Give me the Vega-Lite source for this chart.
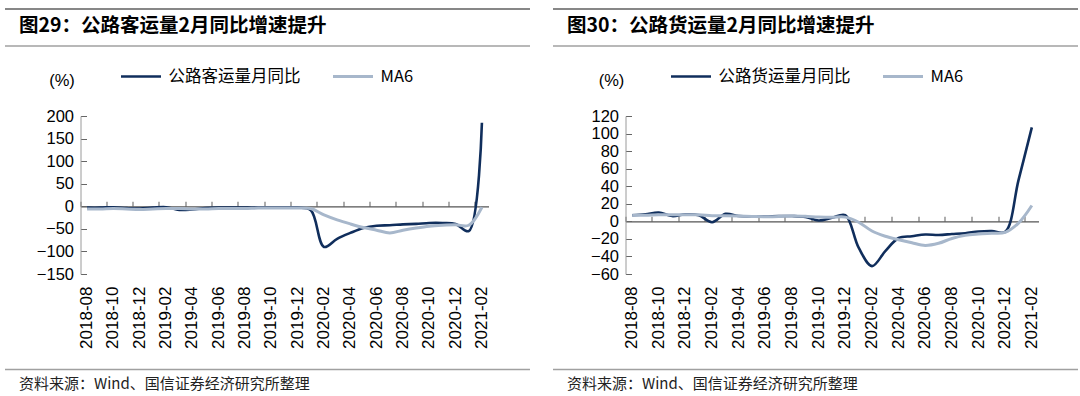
{
  "$schema": "https://vega.github.io/schema/vega-lite/v6.json",
  "padding": {"left": 3.5, "top": 8, "right": 0, "bottom": 0},
  "background": "white",
  "spacing": 8,
  "config": {
    "view": {"stroke": null},
    "axis": {"labelFont": "Liberation Sans", "titleFont": "Liberation Sans", "labelColor": "#000000", "titleColor": "#000000", "grid": false},
    "legend": {"labelFont": "Noto Sans CJK SC", "labelColor": "#000000"}
  },
  "datasets": {
    "titles": [
      {"panel": "L", "title": "图29：公路客运量2月同比增速提升", "source": "资料来源：Wind、国信证券经济研究所整理"},
      {"panel": "R", "title": "图30：公路货运量2月同比增速提升", "source": "资料来源：Wind、国信证券经济研究所整理"}
    ],
    "passenger": [
      {"month": "2018-08", "series": "公路客运量月同比", "value": -3},
      {"month": "2018-09", "series": "公路客运量月同比", "value": -3},
      {"month": "2018-10", "series": "公路客运量月同比", "value": -2},
      {"month": "2018-11", "series": "公路客运量月同比", "value": -4},
      {"month": "2018-12", "series": "公路客运量月同比", "value": -5},
      {"month": "2019-01", "series": "公路客运量月同比", "value": -3},
      {"month": "2019-02", "series": "公路客运量月同比", "value": -2},
      {"month": "2019-03", "series": "公路客运量月同比", "value": -8},
      {"month": "2019-04", "series": "公路客运量月同比", "value": -7},
      {"month": "2019-05", "series": "公路客运量月同比", "value": -4},
      {"month": "2019-06", "series": "公路客运量月同比", "value": -3},
      {"month": "2019-07", "series": "公路客运量月同比", "value": -3},
      {"month": "2019-08", "series": "公路客运量月同比", "value": -3},
      {"month": "2019-09", "series": "公路客运量月同比", "value": -3},
      {"month": "2019-10", "series": "公路客运量月同比", "value": -3},
      {"month": "2019-11", "series": "公路客运量月同比", "value": -3},
      {"month": "2019-12", "series": "公路客运量月同比", "value": -3},
      {"month": "2020-01", "series": "公路客运量月同比", "value": -9},
      {"month": "2020-02", "series": "公路客运量月同比", "value": -90},
      {"month": "2020-03", "series": "公路客运量月同比", "value": -72},
      {"month": "2020-04", "series": "公路客运量月同比", "value": -59},
      {"month": "2020-05", "series": "公路客运量月同比", "value": -48},
      {"month": "2020-06", "series": "公路客运量月同比", "value": -43},
      {"month": "2020-07", "series": "公路客运量月同比", "value": -42},
      {"month": "2020-08", "series": "公路客运量月同比", "value": -40},
      {"month": "2020-09", "series": "公路客运量月同比", "value": -39},
      {"month": "2020-10", "series": "公路客运量月同比", "value": -37},
      {"month": "2020-11", "series": "公路客运量月同比", "value": -37},
      {"month": "2020-12", "series": "公路客运量月同比", "value": -39},
      {"month": "2021-01", "series": "公路客运量月同比", "value": -55},
      {"month": "2021-02", "series": "公路客运量月同比", "value": 185},
      {"month": "2018-08", "series": "MA6", "value": -6},
      {"month": "2018-09", "series": "MA6", "value": -6},
      {"month": "2018-10", "series": "MA6", "value": -5},
      {"month": "2018-11", "series": "MA6", "value": -6},
      {"month": "2018-12", "series": "MA6", "value": -7},
      {"month": "2019-01", "series": "MA6", "value": -6},
      {"month": "2019-02", "series": "MA6", "value": -5},
      {"month": "2019-03", "series": "MA6", "value": -5},
      {"month": "2019-04", "series": "MA6", "value": -6},
      {"month": "2019-05", "series": "MA6", "value": -6},
      {"month": "2019-06", "series": "MA6", "value": -5},
      {"month": "2019-07", "series": "MA6", "value": -5},
      {"month": "2019-08", "series": "MA6", "value": -5},
      {"month": "2019-09", "series": "MA6", "value": -4},
      {"month": "2019-10", "series": "MA6", "value": -4},
      {"month": "2019-11", "series": "MA6", "value": -4},
      {"month": "2019-12", "series": "MA6", "value": -4},
      {"month": "2020-01", "series": "MA6", "value": -5},
      {"month": "2020-02", "series": "MA6", "value": -19},
      {"month": "2020-03", "series": "MA6", "value": -30},
      {"month": "2020-04", "series": "MA6", "value": -39},
      {"month": "2020-05", "series": "MA6", "value": -47},
      {"month": "2020-06", "series": "MA6", "value": -53},
      {"month": "2020-07", "series": "MA6", "value": -59},
      {"month": "2020-08", "series": "MA6", "value": -53},
      {"month": "2020-09", "series": "MA6", "value": -48},
      {"month": "2020-10", "series": "MA6", "value": -44},
      {"month": "2020-11", "series": "MA6", "value": -42},
      {"month": "2020-12", "series": "MA6", "value": -41},
      {"month": "2021-01", "series": "MA6", "value": -42},
      {"month": "2021-02", "series": "MA6", "value": -2}
    ],
    "freight": [
      {"month": "2018-08", "series": "公路货运量月同比", "value": 7},
      {"month": "2018-09", "series": "公路货运量月同比", "value": 8},
      {"month": "2018-10", "series": "公路货运量月同比", "value": 10},
      {"month": "2018-11", "series": "公路货运量月同比", "value": 6},
      {"month": "2018-12", "series": "公路货运量月同比", "value": 8},
      {"month": "2019-01", "series": "公路货运量月同比", "value": 7},
      {"month": "2019-02", "series": "公路货运量月同比", "value": -1},
      {"month": "2019-03", "series": "公路货运量月同比", "value": 8.5},
      {"month": "2019-04", "series": "公路货运量月同比", "value": 6},
      {"month": "2019-05", "series": "公路货运量月同比", "value": 5.5},
      {"month": "2019-06", "series": "公路货运量月同比", "value": 5.5},
      {"month": "2019-07", "series": "公路货运量月同比", "value": 6},
      {"month": "2019-08", "series": "公路货运量月同比", "value": 6},
      {"month": "2019-09", "series": "公路货运量月同比", "value": 5},
      {"month": "2019-10", "series": "公路货运量月同比", "value": 1},
      {"month": "2019-11", "series": "公路货运量月同比", "value": 4},
      {"month": "2019-12", "series": "公路货运量月同比", "value": 7},
      {"month": "2020-01", "series": "公路货运量月同比", "value": -30},
      {"month": "2020-02", "series": "公路货运量月同比", "value": -51},
      {"month": "2020-03", "series": "公路货运量月同比", "value": -34},
      {"month": "2020-04", "series": "公路货运量月同比", "value": -19},
      {"month": "2020-05", "series": "公路货运量月同比", "value": -17},
      {"month": "2020-06", "series": "公路货运量月同比", "value": -15},
      {"month": "2020-07", "series": "公路货运量月同比", "value": -15.5},
      {"month": "2020-08", "series": "公路货运量月同比", "value": -14.5},
      {"month": "2020-09", "series": "公路货运量月同比", "value": -13.5},
      {"month": "2020-10", "series": "公路货运量月同比", "value": -11.5},
      {"month": "2020-11", "series": "公路货运量月同比", "value": -11},
      {"month": "2020-12", "series": "公路货运量月同比", "value": -12},
      {"month": "2021-01", "series": "公路货运量月同比", "value": 47},
      {"month": "2021-02", "series": "公路货运量月同比", "value": 107},
      {"month": "2018-08", "series": "MA6", "value": 7},
      {"month": "2018-09", "series": "MA6", "value": 7},
      {"month": "2018-10", "series": "MA6", "value": 7.5},
      {"month": "2018-11", "series": "MA6", "value": 7.5},
      {"month": "2018-12", "series": "MA6", "value": 7.5},
      {"month": "2019-01", "series": "MA6", "value": 7.5},
      {"month": "2019-02", "series": "MA6", "value": 6.5},
      {"month": "2019-03", "series": "MA6", "value": 6.3},
      {"month": "2019-04", "series": "MA6", "value": 6},
      {"month": "2019-05", "series": "MA6", "value": 5.6},
      {"month": "2019-06", "series": "MA6", "value": 5.3},
      {"month": "2019-07", "series": "MA6", "value": 5.5},
      {"month": "2019-08", "series": "MA6", "value": 6.2},
      {"month": "2019-09", "series": "MA6", "value": 5.7},
      {"month": "2019-10", "series": "MA6", "value": 4.9},
      {"month": "2019-11", "series": "MA6", "value": 4.6},
      {"month": "2019-12", "series": "MA6", "value": 4.8},
      {"month": "2020-01", "series": "MA6", "value": -1},
      {"month": "2020-02", "series": "MA6", "value": -11},
      {"month": "2020-03", "series": "MA6", "value": -17},
      {"month": "2020-04", "series": "MA6", "value": -21},
      {"month": "2020-05", "series": "MA6", "value": -24.5},
      {"month": "2020-06", "series": "MA6", "value": -27.5},
      {"month": "2020-07", "series": "MA6", "value": -25},
      {"month": "2020-08", "series": "MA6", "value": -19.5},
      {"month": "2020-09", "series": "MA6", "value": -16},
      {"month": "2020-10", "series": "MA6", "value": -14.5},
      {"month": "2020-11", "series": "MA6", "value": -13.5},
      {"month": "2020-12", "series": "MA6", "value": -12.5},
      {"month": "2021-01", "series": "MA6", "value": -2},
      {"month": "2021-02", "series": "MA6", "value": 18}
    ]
  },
  "vconcat": [
    {
      "width": 1073,
      "height": 37,
      "data": {"name": "titles"},
      "encoding": {
        "x": {"field": "panel", "type": "nominal", "bandPosition": 0, "scale": {"type": "band", "domain": ["L", "R"], "range": [-75.5, 997.5], "paddingInner": 0.042, "paddingOuter": 0}, "axis": null}
      },
      "layer": [
        {
          "mark": {"type": "rule", "color": "#5f5f5f", "strokeWidth": 1.5},
          "encoding": {
            "x2": {"field": "panel", "bandPosition": 1},
            "y": {"datum": 1, "type": "quantitative", "scale": {"domain": [0, 1], "nice": false, "zero": false}, "axis": null}
          }
        },
        {
          "mark": {"type": "rule", "color": "#a0a0a0", "strokeWidth": 1.5},
          "encoding": {
            "x2": {"field": "panel", "bandPosition": 1},
            "y": {"datum": 0, "type": "quantitative"}
          }
        },
        {
          "mark": {"type": "text", "align": "left", "baseline": "middle", "dx": 14, "font": "Noto Sans CJK SC", "fontWeight": "bold", "fontSize": 19.5, "color": "#000000"},
          "encoding": {
            "y": {"datum": 0.554, "type": "quantitative"},
            "text": {"field": "title"}
          }
        }
      ]
    },
    {
      "spacing": 0,
      "hconcat": [
        {
          "width": 408,
          "height": 158,
          "data": {"name": "passenger"},
          "layer": [
            {
              "mark": {"type": "line", "interpolate": "catmull-rom"},
              "encoding": {
                "x": {"field": "month", "type": "ordinal", "scale": {"type": "band", "paddingInner": 0, "paddingOuter": 0},
                  "axis": {"orient": "bottom", "values": ["2018-08","2018-10","2018-12","2019-02","2019-04","2019-06","2019-08","2019-10","2019-12","2020-02","2020-04","2020-06","2020-08","2020-10","2020-12","2021-02"], "domain": false, "ticks": false, "labelAngle": 270, "labelPadding": 12, "labelFont": "Liberation Sans", "labelFontSize": 17, "labelOverlap": false, "title": null}},
                "y": {"field": "value", "type": "quantitative", "scale": {"domain": [-150, 200], "nice": false, "zero": false},
                  "axis": {"values": [-150, -100, -50, 0, 50, 100, 150, 200], "labelOverlap": false, "labelBound": false, "tickSize": -6, "labelPadding": 13, "labelFont": "Liberation Sans", "labelFontSize": 16.5, "domainColor": "#9a9a9a", "tickColor": "#666666", "title": "(%)", "titleFont": "Liberation Sans", "titleAngle": 0, "titleX": -19, "titleY": -36, "titleAlign": "center", "titleBaseline": "middle", "titleFontSize": 16.5, "titleFontWeight": "normal", "minExtent": 60}},
                "color": {"field": "series", "type": "nominal", "scale": {"domain": ["公路客运量月同比", "MA6"], "range": ["#102E5C", "#A7B7CB"]},
                  "legend": {"orient": "none", "legendX": 39, "legendY": -61, "direction": "horizontal", "title": null, "symbolType": "stroke", "symbolSize": 1600, "symbolStrokeWidth": 2.5, "labelFontSize": 16.5, "labelOffset": 6, "columnPadding": 26}},
                "strokeWidth": {"field": "series", "type": "nominal", "scale": {"domain": ["公路客运量月同比", "MA6"], "range": [2.6, 3]}, "legend": null}
              }
            },
            {
              "mark": {"type": "point", "opacity": 0},
              "encoding": {
                "x": {"field": "month", "type": "ordinal",
                  "axis": {"orient": "top", "offset": -90.3, "values": ["2018-08","2018-10","2018-12","2019-02","2019-04","2019-06","2019-08","2019-10","2019-12","2020-02","2020-04","2020-06","2020-08","2020-10","2020-12","2021-02"], "labels": false, "ticks": true, "tickSize": 5, "tickColor": "#777777", "tickWidth": 1.2, "domain": true, "domainColor": "#555555", "domainWidth": 1.2, "bandPosition": 0, "title": null}}
              }
            }
          ],
          "resolve": {"axis": {"x": "independent"}}
        },
        {
          "width": 413,
          "height": 158,
          "data": {"name": "freight"},
          "layer": [
            {
              "mark": {"type": "line", "interpolate": "catmull-rom"},
              "encoding": {
                "x": {"field": "month", "type": "ordinal", "scale": {"type": "band", "paddingInner": 0, "paddingOuter": 0},
                  "axis": {"orient": "bottom", "values": ["2018-08","2018-10","2018-12","2019-02","2019-04","2019-06","2019-08","2019-10","2019-12","2020-02","2020-04","2020-06","2020-08","2020-10","2020-12","2021-02"], "domain": false, "ticks": false, "labelAngle": 270, "labelPadding": 12, "labelFont": "Liberation Sans", "labelFontSize": 17, "labelOverlap": false, "title": null}},
                "y": {"field": "value", "type": "quantitative", "scale": {"domain": [-60, 120], "nice": false, "zero": false},
                  "axis": {"values": [-60, -40, -20, 0, 20, 40, 60, 80, 100, 120], "labelOverlap": false, "labelBound": false, "tickSize": -6, "labelPadding": 13, "labelFont": "Liberation Sans", "labelFontSize": 16.5, "domainColor": "#9a9a9a", "tickColor": "#666666", "title": "(%)", "titleFont": "Liberation Sans", "titleAngle": 0, "titleX": -14.5, "titleY": -36, "titleAlign": "center", "titleBaseline": "middle", "titleFontSize": 16.5, "titleFontWeight": "normal", "minExtent": 136}},
                "color": {"field": "series", "type": "nominal", "scale": {"domain": ["公路货运量月同比", "MA6"], "range": ["#102E5C", "#A7B7CB"]},
                  "legend": {"orient": "none", "legendX": 44, "legendY": -61, "direction": "horizontal", "title": null, "symbolType": "stroke", "symbolSize": 1600, "symbolStrokeWidth": 2.5, "labelFontSize": 16.5, "labelOffset": 6, "columnPadding": 26}},
                "strokeWidth": {"field": "series", "type": "nominal", "scale": {"domain": ["公路货运量月同比", "MA6"], "range": [2.6, 3]}, "legend": null}
              }
            },
            {
              "mark": {"type": "point", "opacity": 0},
              "encoding": {
                "x": {"field": "month", "type": "ordinal",
                  "axis": {"orient": "top", "offset": -105.3, "values": ["2018-08","2018-10","2018-12","2019-02","2019-04","2019-06","2019-08","2019-10","2019-12","2020-02","2020-04","2020-06","2020-08","2020-10","2020-12","2021-02"], "labels": false, "ticks": true, "tickSize": 5, "tickColor": "#777777", "tickWidth": 1.2, "domain": true, "domainColor": "#555555", "domainWidth": 1.2, "bandPosition": 0, "title": null}}
              }
            }
          ],
          "resolve": {"axis": {"x": "independent"}}
        }
      ],
      "resolve": {"scale": {"color": "independent", "strokeWidth": "independent"}}
    },
    {
      "width": 1073,
      "height": 40,
      "data": {"name": "titles"},
      "encoding": {
        "x": {"field": "panel", "type": "nominal", "bandPosition": 0, "scale": {"type": "band", "domain": ["L", "R"], "range": [-75.5, 997.5], "paddingInner": 0.042, "paddingOuter": 0}, "axis": null}
      },
      "layer": [
        {
          "mark": {"type": "rule", "color": "#a0a0a0", "strokeWidth": 1.5},
          "encoding": {
            "x2": {"field": "panel", "bandPosition": 1},
            "y": {"datum": 0.69, "type": "quantitative", "scale": {"domain": [0, 1], "nice": false, "zero": false}, "axis": null}
          }
        },
        {
          "mark": {"type": "text", "align": "left", "baseline": "middle", "dx": 14, "font": "Noto Sans CJK SC", "fontSize": 15, "color": "#222222"},
          "encoding": {
            "y": {"datum": 0.33, "type": "quantitative"},
            "text": {"field": "source"}
          }
        }
      ]
    }
  ]
}
